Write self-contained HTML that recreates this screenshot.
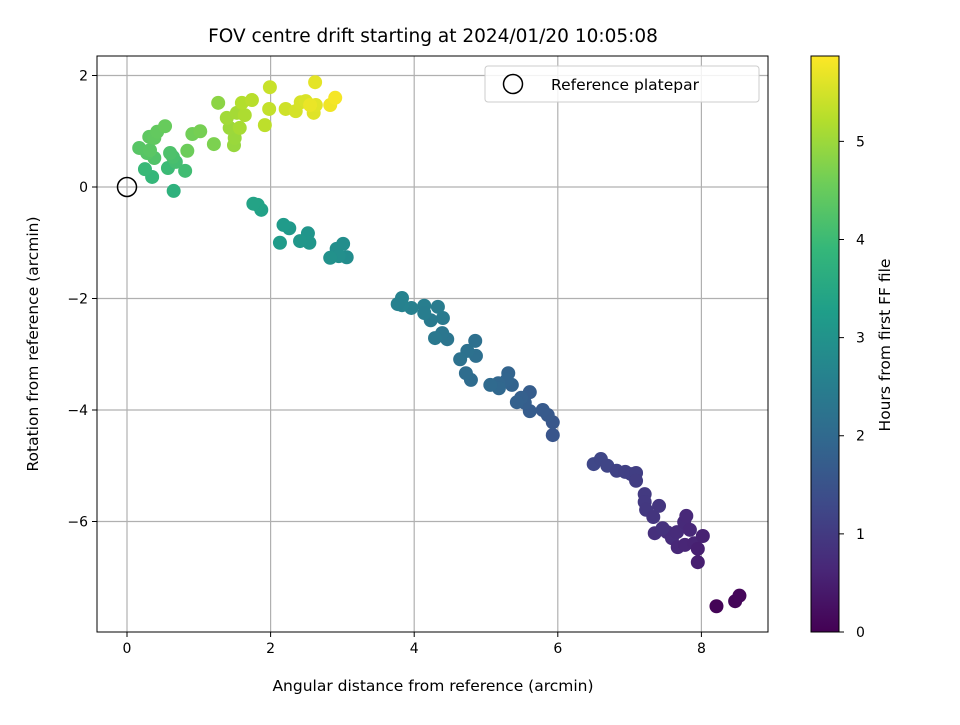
<!DOCTYPE html>
<html><head><meta charset="utf-8"><style>
body{margin:0;background:#fff;font-family:"Liberation Sans","DejaVu Sans",sans-serif}
svg text{font-family:"DejaVu Sans","Liberation Sans",sans-serif}
</style></head><body>
<svg id="c" width="960" height="720" viewBox="0 0 960 720"></svg>
<script>
const xs=[8.21,8.47,8.53, 6.50,6.60,6.69,6.82,6.94,7.02,7.09,7.09,7.21,7.21,7.23,7.41,7.33,7.35,7.52,7.59,7.66,7.76,7.79,7.67,7.77,7.90,8.02,7.95,7.95,7.46,7.84,
5.93,5.93,5.86,5.79,5.61,5.61,5.54,5.49,5.43,5.36,5.31,5.29,5.17,5.18,5.06,4.79,4.72,4.86,4.85,4.74,4.64,4.46,4.39,4.29,4.40,4.33,4.23,4.14,4.14,3.96,3.83,3.83,3.77,
3.06,3.01,2.92,2.95,2.83,2.52,2.54,2.41,2.26,2.18,2.13,1.87,1.82,1.76,
0.65,0.35,0.25,0.57,0.81,0.68,0.64,0.60,0.38,0.28,0.17,0.32,0.31,0.38,0.42,0.53,0.84,0.91,1.02,1.21,1.27,
1.49,1.50,1.43,1.39,1.53,1.57,1.64,1.60,1.74,1.92,1.98,1.99,
2.21,2.35,2.42,2.49,2.60,2.62,2.63,2.83,2.90,2.55];
const ys=[-7.52,-7.43,-7.33, -4.97,-4.88,-5.00,-5.09,-5.11,-5.15,-5.13,-5.27,-5.51,-5.65,-5.79,-5.72,-5.92,-6.21,-6.19,-6.30,-6.19,-6.01,-5.90,-6.46,-6.42,-6.39,-6.26,-6.49,-6.73,-6.12,-6.15,
-4.45,-4.22,-4.09,-4.00,-4.02,-3.68,-3.87,-3.78,-3.86,-3.55,-3.34,-3.46,-3.52,-3.61,-3.55,-3.46,-3.34,-3.03,-2.76,-2.94,-3.09,-2.73,-2.62,-2.71,-2.35,-2.15,-2.39,-2.13,-2.26,-2.17,-2.12,-1.99,-2.10,
-1.26,-1.02,-1.11,-1.24,-1.27,-0.83,-1.00,-0.97,-0.74,-0.68,-1.00,-0.41,-0.32,-0.30,
-0.07,0.18,0.32,0.34,0.29,0.45,0.54,0.61,0.52,0.61,0.70,0.66,0.90,0.88,0.99,1.09,0.65,0.95,1.00,0.77,1.51,
0.75,0.88,1.06,1.24,1.33,1.06,1.29,1.51,1.56,1.11,1.40,1.79,
1.40,1.36,1.52,1.54,1.33,1.88,1.47,1.47,1.60,1.47];
const hours=[0.05,0.08,0.1, 1.25,1.22,1.2,1.15,1.12,1.1,1.08,1.05,1.0,0.98,0.95,0.92,0.9,0.8,0.78,0.75,0.72,0.7,0.68,0.65,0.62,0.6,0.55,0.52,0.5,0.85,0.66,
1.55,1.58,1.62,1.65,1.7,1.72,1.75,1.78,1.8,1.85,1.88,1.9,1.93,1.95,2.0,2.05,2.08,2.12,2.15,2.18,2.2,2.28,2.32,2.35,2.4,2.45,2.42,2.5,2.48,2.55,2.6,2.62,2.58,
2.85,2.88,2.9,2.92,2.95,3.05,3.08,3.1,3.15,3.18,3.2,3.35,3.38,3.4,
3.75,3.9,3.95,4.0,4.05,4.1,4.15,4.2,4.25,4.3,4.32,4.35,4.4,4.42,4.45,4.5,4.55,4.6,4.65,4.7,4.85,
4.95,4.98,5.0,5.05,5.08,5.1,5.15,5.2,5.25,5.3,5.35,5.4,
5.45,5.5,5.52,5.55,5.6,5.65,5.62,5.75,5.8,5.7];
const xTicks=[0,2,4,6,8], yTicks=[2,0,-2,-4,-6], cTicks=[0,1,2,3,4,5];
const NS="http://www.w3.org/2000/svg", svg=document.getElementById('c');
const L=97,R=768,T=56,B=632;
const X=v=>127+v*71.8, Y=v=>187-v*55.75, CMAX=5.87, C=v=>632-v*(576/CMAX);
const vir=[[68,1,84],[72,40,120],[62,74,137],[49,104,142],[38,130,142],[31,158,137],[53,183,121],[109,205,89],[180,222,44],[253,231,37]];
function col(t){t=Math.max(0,Math.min(1,t))*9;const i=Math.min(8,Math.floor(t)),f=t-i,a=vir[i],b=vir[i+1];return `rgb(${a.map((v,k)=>Math.round(v+(b[k]-v)*f)).join(',')})`;}
function el(tag,attrs,parent){const e=document.createElementNS(NS,tag);for(const k in attrs)e.setAttribute(k,attrs[k]);(parent||svg).appendChild(e);return e;}
xTicks.forEach(v=>{const g=el('line',{x1:X(v),x2:X(v),y1:T,y2:B,stroke:'#b0b0b0','stroke-width':1.2});


const tk=el('line',{x1:X(v),x2:X(v),y1:B,y2:B+5,stroke:'#000'});


const t=el('text',{x:X(v),y:B+21,'text-anchor':'middle','font-size':14});t.textContent=v;

});
yTicks.forEach(v=>{const g=el('line',{x1:L,x2:R,y1:Y(v),y2:Y(v),stroke:'#b0b0b0','stroke-width':1.2});


const tk=el('line',{x1:L-5,x2:L,y1:Y(v),y2:Y(v),stroke:'#000'});


const t=el('text',{x:L-9,y:Y(v)+5,'text-anchor':'end','font-size':14});t.textContent=(v<0?'\u2212'+(-v):v);

});
xs.forEach((x,i)=>{const c=el('circle',{cx:X(x),cy:Y(ys[i]),r:7,fill:col(hours[i]/CMAX)});

});
const ref=el('circle',{cx:X(0),cy:Y(0),r:9.5,fill:'none',stroke:'#000','stroke-width':1.5});


const fr=el('rect',{x:L,y:T,width:R-L,height:B-T,fill:'none',stroke:'#000','stroke-width':1});


const defs=el('defs',{});const lg=el('linearGradient',{id:'g',x1:0,y1:1,x2:0,y2:0},defs);
vir.forEach((c,i)=>el('stop',{offset:i/9,'stop-color':`rgb(${c})`},lg));
const cb=el('rect',{x:811,y:T,width:28,height:B-T,fill:'url(#g)',stroke:'#000','stroke-width':1});


cTicks.forEach(v=>{const tk=el('line',{x1:839,x2:844,y1:C(v),y2:C(v),stroke:'#000'});


const t=el('text',{x:856,y:C(v)+5,'font-size':14});t.textContent=v;

});
</script>
<svg width="960" height="720" style="position:absolute;left:0;top:0">
<text x="433" y="42" text-anchor="middle" font-size="18.5">FOV centre drift starting at 2024/01/20 10:05:08</text>
<text x="433" y="691" text-anchor="middle" font-size="15.5">Angular distance from reference (arcmin)</text>
<text transform="translate(38,344) rotate(-90)" text-anchor="middle" font-size="15.5">Rotation from reference (arcmin)</text>
<text transform="translate(890,345) rotate(-90)" text-anchor="middle" font-size="15.5">Hours from first FF file</text>
<g>
<rect x="485" y="66" width="274" height="36" rx="3" fill="#fff" fill-opacity="0.85" stroke="#ccc"/>
<circle cx="513" cy="84" r="9.5" fill="none" stroke="#000" stroke-width="1.5"/>
<text x="551" y="90" font-size="15.5">Reference platepar</text>
</g>
</svg>
</body></html>
